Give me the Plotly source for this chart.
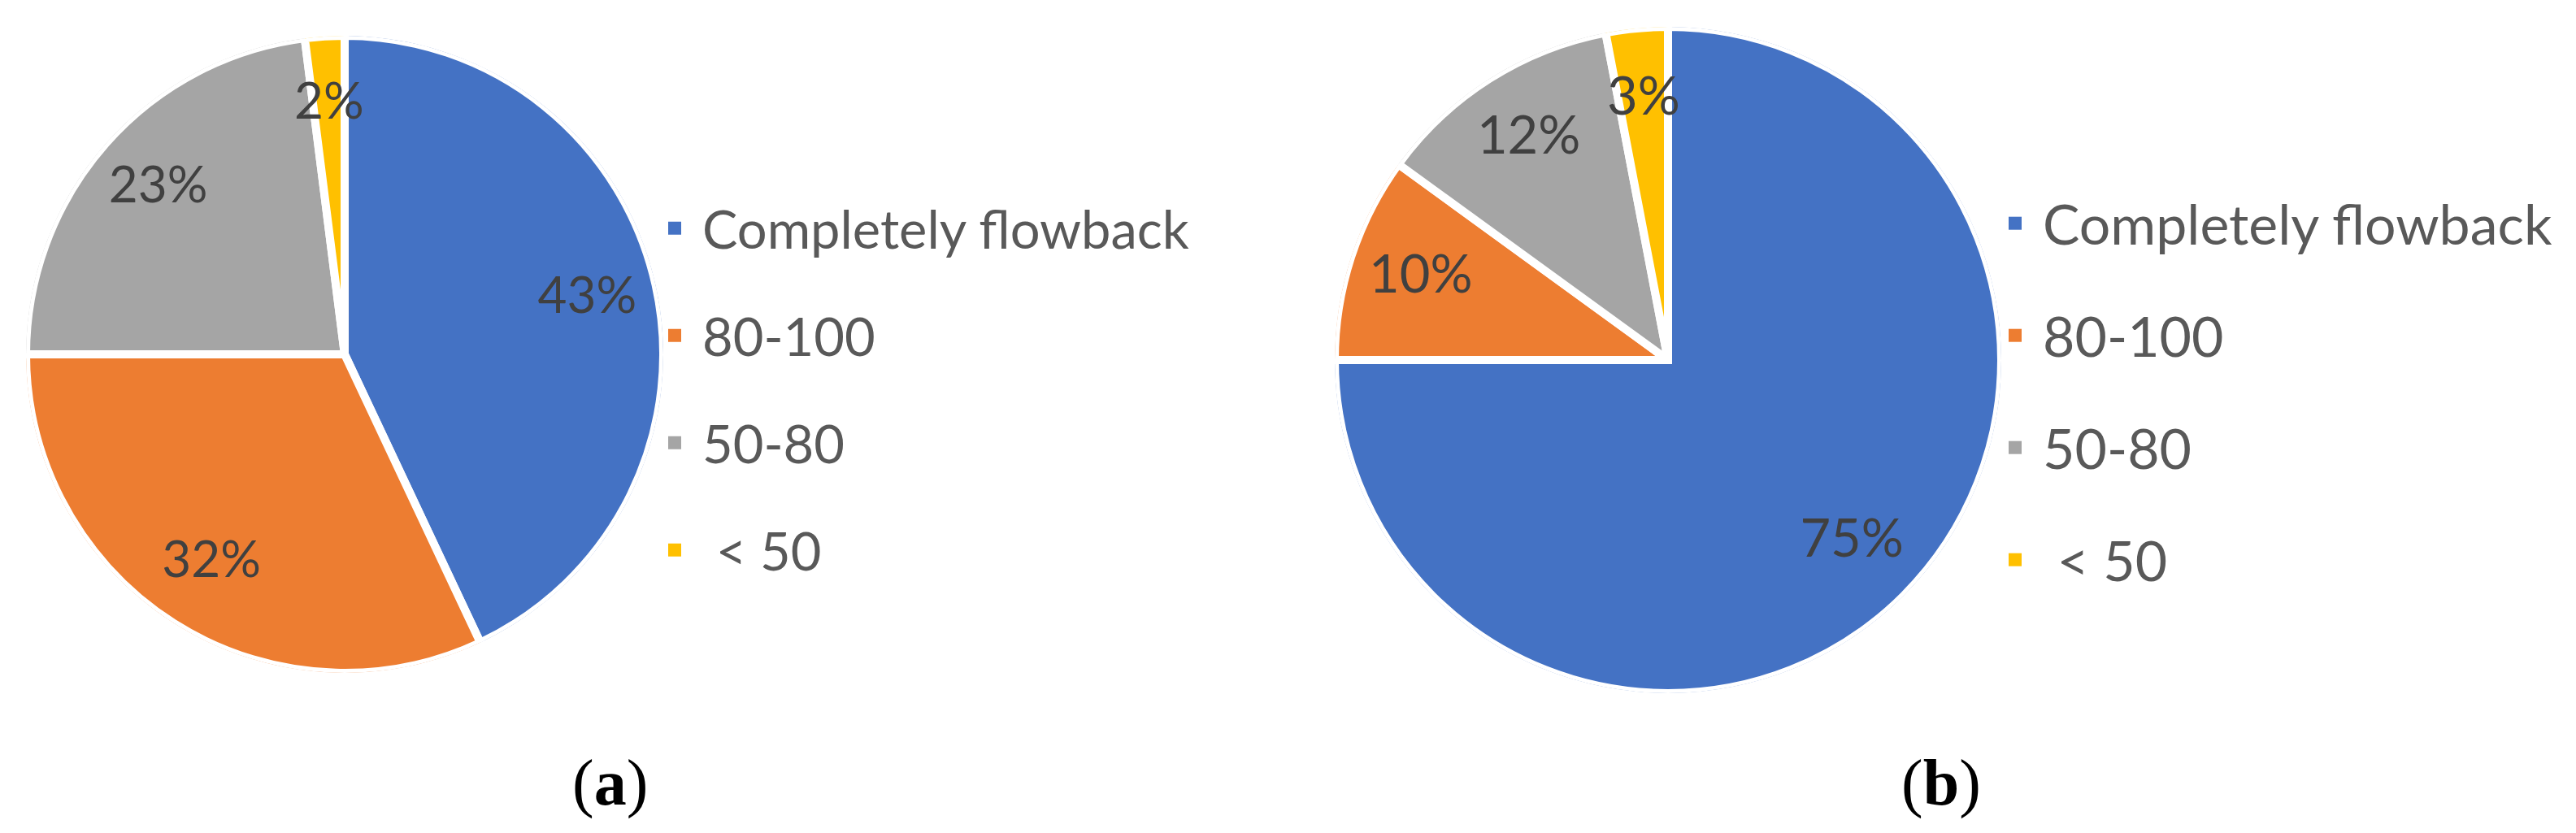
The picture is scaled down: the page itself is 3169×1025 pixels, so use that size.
import plotly.graph_objects as go

# === Data ===
labels = ["Completely flowback", "80-100", "50-80", " < 50"]
colors = ["#4472C4", "#ED7D31", "#A5A5A5", "#FFC000"]
values_a = [43, 32, 23, 2]
values_b = [75, 10, 12, 3]
panel_tags = ["(<b>a</b>)", "(<b>b</b>)"]

W, H = 3169, 1025
SANS = "Lato, Carlito, Calibri, sans-serif"
SERIF = "Liberation Serif, Times New Roman, serif"
LABEL_R = 0.78

# pie placement in pixels: centre x, centre y (from top), radius
panels = [
    dict(values=values_a, cx=416, cy=428, r=392, legend="legend", polar="polar",
         leg_x=788, leg_top=224, leg_gap=132, leg_fs=65, lab_fs=62, tag_x=742),
    dict(values=values_b, cx=2044, cy=435, r=410, legend="legend2", polar="polar2",
         leg_x=2437, leg_top=216, leg_gap=138, leg_fs=68, lab_fs=65, tag_x=2380),
]


def slice_angles(vals):
    """mid angle and angular width (degrees, clockwise from 12 o'clock)"""
    tot = sum(vals)
    mids, widths, cum = [], [], 0
    for v in vals:
        mids.append((cum + v / 2) / tot * 360)
        widths.append(v / tot * 360)
        cum += v
    return mids, widths


fig = go.Figure()
layout_extra = {}
annotations = []

for k, p in enumerate(panels):
    dom_x = [(p["cx"] - p["r"]) / W, (p["cx"] + p["r"]) / W]
    dom_y = [(H - p["cy"] - p["r"]) / H, (H - p["cy"] + p["r"]) / H]
    mids, widths = slice_angles(p["values"])
    tot = sum(p["values"])

    # pie wedges drawn as polar bars
    for i, lab in enumerate(labels):
        fig.add_trace(go.Barpolar(
            r=[1], theta=[mids[i]], width=[widths[i]],
            name=lab,
            marker=dict(color=colors[i], line=dict(color="white", width=10)),
            subplot=p["polar"],
            showlegend=False,
        ))

    # legend entries
    for i, lab in enumerate(labels):
        fig.add_trace(go.Scatterpolar(
            r=[None], theta=[None], mode="markers",
            name=lab,
            marker=dict(symbol="square", size=16, color=colors[i]),
            subplot=p["polar"],
            legend=p["legend"],
            legendgroup=f"{p['legend']}_{i}",
            showlegend=True,
        ))

    # percentage labels
    fig.add_trace(go.Scatterpolar(
        r=[LABEL_R] * len(p["values"]),
        theta=mids,
        text=[f"{round(v / tot * 100)}%" for v in p["values"]],
        mode="text",
        textfont=dict(family=SANS, size=p["lab_fs"], color="#404040"),
        subplot=p["polar"],
        showlegend=False,
        hoverinfo="skip",
    ))

    layout_extra[p["polar"]] = dict(
        domain=dict(x=dom_x, y=dom_y),
        bgcolor="rgba(0,0,0,0)",
        bargap=0,
        angularaxis=dict(rotation=90, direction="clockwise", visible=False),
        radialaxis=dict(range=[0, 1], visible=False),
    )

    fs = p["leg_fs"]
    layout_extra[p["legend"]] = dict(
        x=p["leg_x"] / W, xanchor="left",
        y=1 - p["leg_top"] / H, yanchor="top",
        font=dict(family=SANS, size=fs, color="#595959"),
        bgcolor="rgba(0,0,0,0)",
        itemwidth=58,
        traceorder="grouped",
        tracegroupgap=p["leg_gap"] - (1.3 * fs + 3),
    )

    annotations.append(dict(
        x=p["tag_x"] / W, y=1 - 955 / H, xref="paper", yref="paper",
        text=panel_tags[k], showarrow=False,
        font=dict(family=SERIF, size=80, color="black"),
        xanchor="center", yanchor="middle",
    ))

fig.update_layout(
    width=W, height=H,
    margin=dict(l=0, r=0, t=0, b=0),
    paper_bgcolor="white",
    plot_bgcolor="white",
    annotations=annotations,
    **layout_extra,
)

fig.write_html("out.html")
